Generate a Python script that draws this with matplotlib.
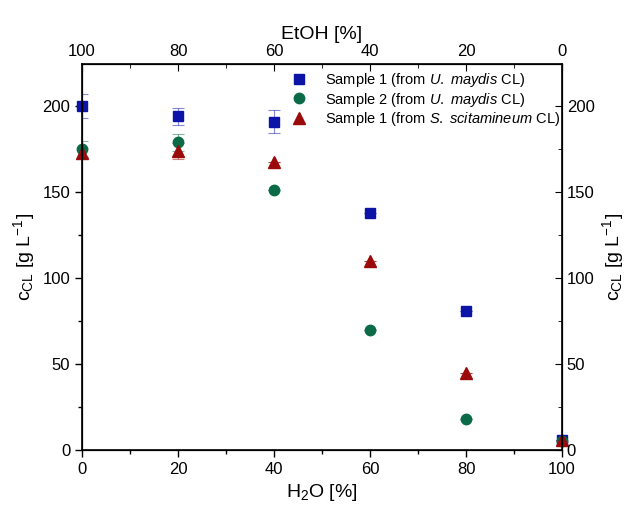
import matplotlib
matplotlib.use("Agg")
import matplotlib.pyplot as plt
from matplotlib.ticker import MultipleLocator
from matplotlib.lines import Line2D

plt.rcParams['font.family'] = ['Liberation Sans', 'DejaVu Sans']
plt.rcParams['mathtext.fontset'] = 'custom'
plt.rcParams['mathtext.rm'] = 'Liberation Sans'
plt.rcParams['mathtext.it'] = 'Liberation Sans:italic'

# water content [%]
h2o = [0, 20, 40, 60, 80, 100]
etoh_labels = ["100", "80", "60", "40", "20", "0"]

s1_um = [200, 194, 191, 138, 81, 6]
s1_um_err = [7, 5, 6.5, 0, 0, 0]
s2_um = [175, 179, 151, 70, 18, 5]
s2_um_err = [4.5, 5, 0, 0, 0, 0]
s1_ss = [173, 174, 167.5, 110, 45, 6]
s1_ss_err = [2.5, 4.5, 0, 0, 0, 0]

labels = [r'Sample 1 (from $\it{U.}$ $\it{maydis}$ CL)',
          r'Sample 2 (from $\it{U.}$ $\it{maydis}$ CL)',
          r'Sample 1 (from $\it{S.}$ $\it{scitamineum}$ CL)']

blue = '#0b14a6'
green = '#0b6b47'
red = '#9a0a0a'

fig = plt.figure(figsize=(6.29, 5.12), dpi=100)
ax = fig.add_axes([0.1304, 0.1211, 0.7631, 0.7539])

series = [(s1_um, s1_um_err, 's', blue, 7),
          (s2_um, s2_um_err, 'o', green, 7.5),
          (s1_ss, s1_ss_err, '^', red, 8)]
handles = []
for (y, err, m, c, ms), lab in zip(series, labels):
    eb = ax.errorbar(h2o, y, yerr=err, fmt=m, color=c, ms=ms, ecolor=c,
                     elinewidth=0.8, capsize=4, capthick=0.8)
    eb[0].set_clip_on(False)
    for part in eb[1] + eb[2]:
        part.set_alpha(0.5)
    handles.append(Line2D([], [], ls='none', marker=m, color=c, ms=ms, label=lab))

ax.set_xlim(0, 100)
ax.set_ylim(0, 224.5)
ax.xaxis.set_major_locator(MultipleLocator(20))
ax.xaxis.set_minor_locator(MultipleLocator(10))
ax.yaxis.set_major_locator(MultipleLocator(50))
ax.yaxis.set_minor_locator(MultipleLocator(25))
ax.tick_params(which='both', direction='out', labelsize=12, width=1)
ax.tick_params(which='major', length=5)
ax.tick_params(which='minor', length=3)
for s in ax.spines.values():
    s.set_linewidth(1.2)

ax.set_xlabel(r'H$_2$O [%]', fontsize=14)
ax.set_ylabel(r'c$_{\rm CL}$ [g L$^{-1}$]', fontsize=14)

top = ax.twiny()
top.set_xlim(ax.get_xlim())
top.set_xticks(h2o)
top.set_xticklabels(etoh_labels)
top.xaxis.set_minor_locator(MultipleLocator(10))
top.set_xlabel('EtOH [%]', fontsize=14)
top.tick_params(which='both', direction='in', labelsize=12)
top.tick_params(which='major', length=5)
top.tick_params(which='minor', length=3)

right = ax.twinx()
right.set_ylim(ax.get_ylim())
right.yaxis.set_major_locator(MultipleLocator(50))
right.yaxis.set_minor_locator(MultipleLocator(25))
right.set_ylabel(r'c$_{\rm CL}$ [g L$^{-1}$]', fontsize=14)
right.tick_params(which='both', direction='in', labelsize=12)
right.tick_params(which='major', length=5)
right.tick_params(which='minor', length=3)

ax.legend(handles=handles, loc='upper left', bbox_to_anchor=(0.412, 1.005), frameon=False,
          fontsize=10.5, handletextpad=1.0, handlelength=1.5,
          labelspacing=0.12, borderaxespad=0.2)

fig.savefig('out.png', dpi=100)
